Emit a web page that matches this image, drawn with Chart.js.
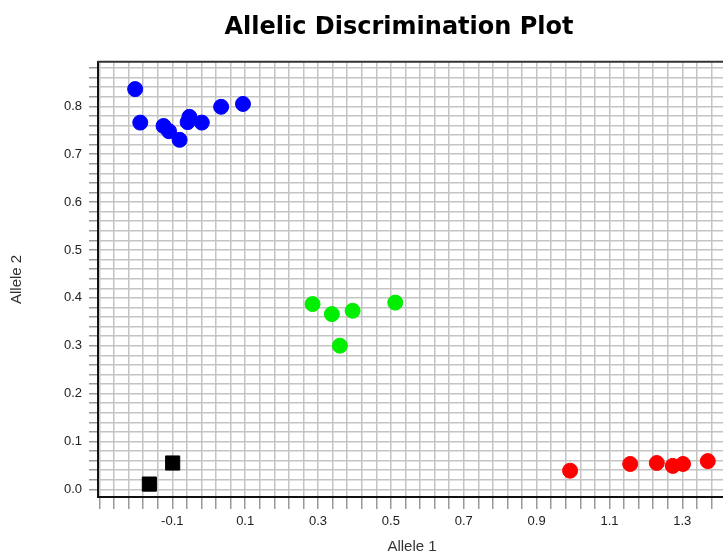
<!DOCTYPE html>
<html>
<head>
<meta charset="utf-8">
<title>Allelic Discrimination Plot</title>
<script src="https://cdn.jsdelivr.net/npm/chart.js@4/dist/chart.umd.min.js"></script>
<style>
	html, body { margin: 0; padding: 0; background: #fff; overflow: hidden; }
	#wrap { width: 798px; height: 560px; }
</style>
</head>
<body>
<div id="wrap"><canvas id="plot" width="798" height="560"></canvas></div>
<script>
// values
const blueX = [-0.202, -0.188, -0.124, -0.109, -0.080, -0.058, -0.053, -0.019, 0.034, 0.094];
const blueY = [0.836, 0.766, 0.759, 0.748, 0.730, 0.767, 0.778, 0.766, 0.799, 0.805];

const greenX = [0.285, 0.338, 0.395, 0.512, 0.360];
const greenY = [0.387, 0.366, 0.373, 0.390, 0.300];

const redX = [0.992, 1.157, 1.230, 1.274, 1.302, 1.370];
const redY = [0.039, 0.053, 0.055, 0.049, 0.053, 0.059];

const blackX = [-0.163, -0.099];
const blackY = [0.011, 0.055];

// labelled ticks and grid spacing
const xTickLabels = [-0.1, 0.1, 0.3, 0.5, 0.7, 0.9, 1.1, 1.3];
const yTickLabels = [0.0, 0.1, 0.2, 0.3, 0.4, 0.5, 0.6, 0.7, 0.8];
const X_MIN = -0.304, X_MAX = 1.42, X_GRID = 0.04, X_GRID_START = -0.3;
const Y_MIN = -0.016, Y_MAX = 0.893, Y_GRID = 0.02, Y_GRID_START = 0.0;

function gridValues(start, stop, step) {
	const out = [];
	for (let i = 0; start + i * step <= stop + 1e-9; i++) out.push(+(start + i * step).toFixed(4));
	return out;
}

function labelFor(list) {
	return (v) => {
		const hit = list.find(l => Math.abs(l - v) < 1e-6);
		return hit === undefined ? '' : hit.toFixed(1);
	};
}

const pts = (xs, ys) => xs.map((x, i) => ({ x, y: ys[i] }));

// plain top border, the library only draws the axis side
const topBorder = {
	id: 'topBorder',
	afterDraw(chart) {
		const { ctx, chartArea: a } = chart;
		ctx.save();
		ctx.strokeStyle = '#333';
		ctx.lineWidth = 2;
		ctx.beginPath();
		ctx.moveTo(a.left, a.top);
		ctx.lineTo(a.right, a.top);
		ctx.stroke();
		ctx.restore();
	}
};

const tickFont = { family: 'Liberation Sans, Arial, sans-serif', size: 13 };
const axisTitleFont = { family: 'Liberation Sans, Arial, sans-serif', size: 15 };

new Chart(document.getElementById('plot'), {
	type: 'scatter',
	data: {
		datasets: [
			{ label: 'Allele 2', data: pts(blueX, blueY), backgroundColor: '#0000ff', borderColor: '#0000ff', pointRadius: 7.5, pointStyle: 'circle' },
			{ label: 'Both', data: pts(greenX, greenY), backgroundColor: '#00ee00', borderColor: '#00ee00', pointRadius: 7.5, pointStyle: 'circle' },
			{ label: 'Allele 1', data: pts(redX, redY), backgroundColor: '#ff0000', borderColor: '#ff0000', pointRadius: 7.5, pointStyle: 'circle' },
			{ label: 'NTC', data: pts(blackX, blackY), backgroundColor: '#000', borderColor: '#000', pointRadius: 10, pointStyle: 'rect' }
		]
	},
	options: {
		responsive: false,
		animation: false,
		layout: { padding: 0 },
		plugins: {
			legend: { display: false },
			tooltip: { enabled: false },
			title: {
				display: true,
				text: 'Allelic Discrimination Plot',
				color: '#000',
				font: { family: 'DejaVu Sans, sans-serif', size: 24, weight: 'bold' },
				padding: { top: 13, bottom: 20 }
			}
		},
		scales: {
			x: {
				type: 'linear',
				min: X_MIN,
				max: X_MAX,
				afterBuildTicks: (s) => { s.ticks = gridValues(X_GRID_START, X_MAX, X_GRID).map(value => ({ value })); },
				afterFit: (s) => { s.height = 63; },
				ticks: { callback: labelFor(xTickLabels), autoSkip: false, maxRotation: 0, color: '#222', font: tickFont, padding: 5 },
				grid: { color: '#c4c4c4', lineWidth: 1.5, tickLength: 12, tickColor: '#999' },
				border: { color: '#111', width: 2 },
				title: { display: true, text: 'Allele 1', color: '#333', font: axisTitleFont, padding: { top: 2, bottom: 4 } }
			},
			y: {
				type: 'linear',
				min: Y_MIN,
				max: Y_MAX,
				afterBuildTicks: (s) => { s.ticks = gridValues(Y_GRID_START, Y_MAX, Y_GRID).map(value => ({ value })); },
				afterFit: (s) => { s.width = 98; },
				ticks: { callback: labelFor(yTickLabels), autoSkip: false, color: '#222', font: tickFont, padding: 7 },
				grid: { color: '#c4c4c4', lineWidth: 1.5, tickLength: 9, tickColor: '#999' },
				border: { color: '#111', width: 2 },
				title: { display: true, text: 'Allele 2', color: '#333', font: axisTitleFont, padding: { top: 8, bottom: 0 } }
			},
			// empty right-hand strip, the part of the original that lies outside the crop
			yRight: {
				type: 'linear',
				position: 'right',
				min: Y_MIN,
				max: Y_MAX,
				afterFit: (s) => { s.width = 72; },
				ticks: { display: false },
				grid: { drawOnChartArea: false, drawTicks: false },
				border: { display: false }
			}
		}
	},
	plugins: [topBorder]
});
</script>
</body>
</html>
